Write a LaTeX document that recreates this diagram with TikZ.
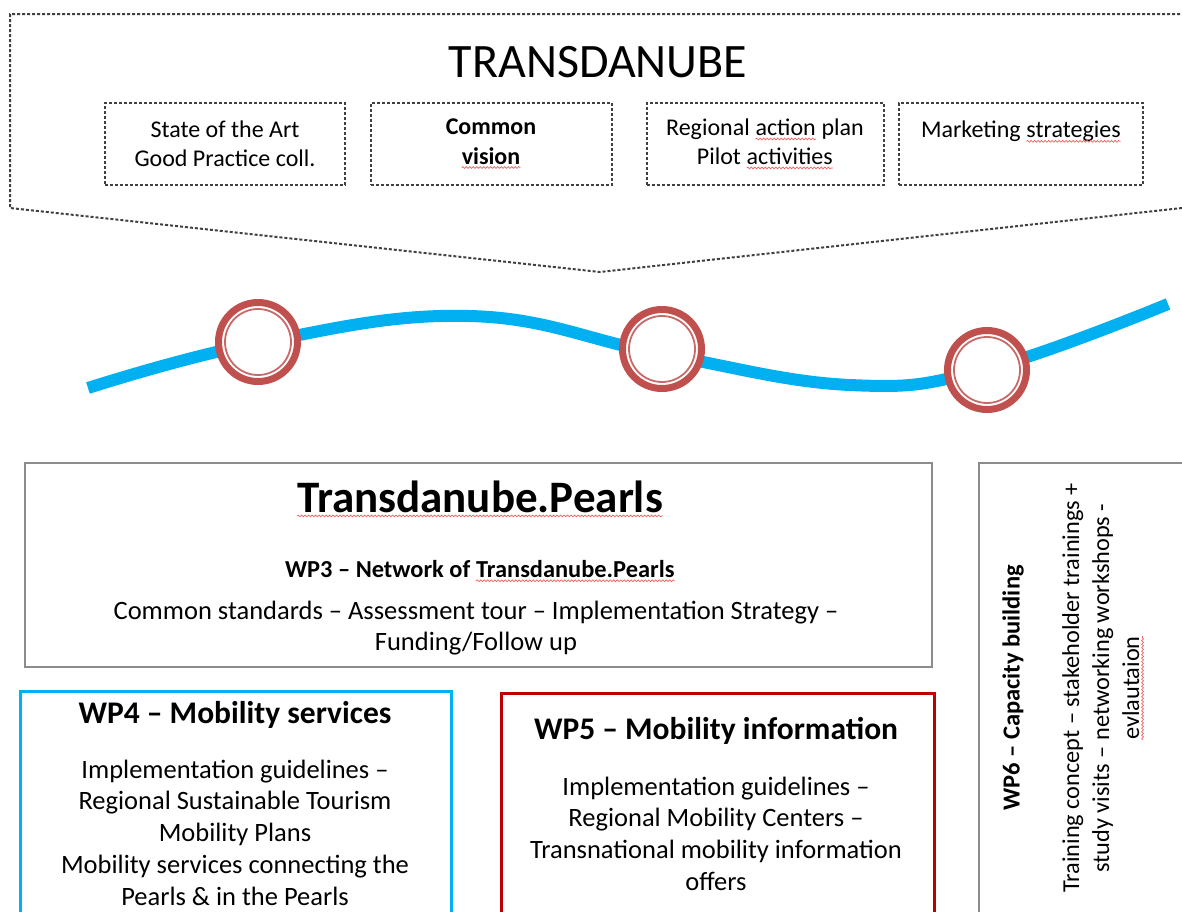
\documentclass[tikz,border=0pt]{standalone}
\usepackage{fontspec}
\setmainfont{Carlito}
\usetikzlibrary{decorations.pathmorphing}
\definecolor{danube}{HTML}{00B0F0}
\definecolor{pearlred}{HTML}{C0504D}
\definecolor{wpred}{HTML}{C00000}
\definecolor{boxgray}{HTML}{8C8C8C}
\definecolor{dashgray}{HTML}{404040}
\definecolor{spellred}{HTML}{F06060}
\newcommand\spell[1]{\tikz[baseline=(word.base), x=1cm, y=1cm]{\node[draw=none, minimum width=0pt, minimum height=0pt, inner sep=0pt, outer sep=0pt] (word) {#1};
  \draw[spellred, solid, line width=0.7pt, decorate, decoration={snake, segment length=3.5pt, amplitude=0.9pt}] ([yshift=-3.5pt]word.base west) -- ([yshift=-3.5pt]word.base east);}}
\begin{document}
\begin{tikzpicture}[x=1pt,y=-1pt,
  dotframe/.style={draw=dashgray, line width=2pt, dash pattern=on 3pt off 2pt},
  card/.style={dotframe, minimum height=82pt, inner sep=0pt, align=center, font=\fontsize{24}{29}\selectfont},
  river/.style={draw=danube, line width=12pt},
  pearl/.style={circle, draw=pearlred, fill=white, line width=7pt, minimum size=79pt, inner sep=0pt},
  wpbox/.style={draw=boxgray, line width=1.5pt, inner sep=0pt},
  body/.style={align=center, font=\fontsize{26.5}{31.7}\selectfont},
  head/.style={font=\fontsize{31.5}{36}\selectfont\bfseries}]
\clip (0,0) rectangle (1182,911);
\draw[dotframe] (1200,14) -- (10,14) -- (10,208) -- (600,272) -- (1200,206);
\node[font=\fontsize{48}{58}\selectfont] (title) at (598,62) {TRANSDANUBE};
\node[card, minimum width=240pt] (art) at (225,144) {State of the Art\\Good Practice coll.};
\node[card, minimum width=241pt, font=\fontsize{24}{29}\selectfont\bfseries] (vision) at (491,144) {Common\\\spell{vision}};
\node[card, minimum width=237pt] (plan) at (765,144) {Regional \spell{action} plan\\Pilot \spell{activities}};
\node[card, minimum width=244pt] (market) at (1021,144) {Marketing \spell{strategies}\\~};
\draw[river] plot[smooth, tension=0.7] coordinates {(88,388) (258,343) (470,316) (662,354) (850,385) (987,369) (1168,304)};
\foreach \p/\x/\y in {p1/258/342, p2/662/349, p3/987/370}{
  \node[pearl] (\p) at (\x,\y) {};
  \draw[pearlred!85, line width=1.8pt] (\p) circle (33pt);
}
\node[wpbox, minimum width=907pt, minimum height=204pt] (pearls) at (478.5,565) {};
\node[font=\fontsize{45}{50}\selectfont\bfseries] (ptitle) at (480,499) {\spell{Transdanube.Pearls}};
\node[font=\fontsize{24.4}{28}\selectfont\bfseries] (wp3) at (480,571) {WP3 – Network of \spell{Transdanube.Pearls}};
\node[body] (wp3text) at (476,628) {Common standards – Assessment tour – Implementation Strategy –\\Funding/Follow up};
\node[wpbox, draw=danube, line width=3pt, minimum width=431pt, minimum height=240pt] (wp4) at (235.5,811) {};
\node[head] (wp4head) at (235,715) {WP4 – Mobility services};
\node[body] (wp4text) at (235,832.5) {Implementation guidelines –\\Regional Sustainable Tourism\\Mobility Plans\\Mobility services connecting the\\Pearls \& in the Pearls};
\node[wpbox, draw=wpred, line width=3pt, minimum width=433pt, minimum height=240pt] (wp5) at (717.5,813) {};
\node[head] (wp5head) at (716,731) {WP5 – Mobility information};
\node[body] (wp5text) at (716,833.5) {Implementation guidelines –\\Regional Mobility Centers –\\Transnational mobility information\\offers};
\node[wpbox, minimum width=221pt, minimum height=468pt] (wp6) at (1089.5,697) {};
\node[rotate=90, font=\fontsize{24.5}{28}\selectfont\bfseries] (wp6head) at (1013,688) {WP6 – Capacity building};
\node[rotate=90, align=center, font=\fontsize{24.3}{30}\selectfont] (wp6text) at (1103,688) {Training concept – stakeholder trainings +\\study visits – networking workshops -\\\spell{evlautaion}};
\end{tikzpicture}
\end{document}
